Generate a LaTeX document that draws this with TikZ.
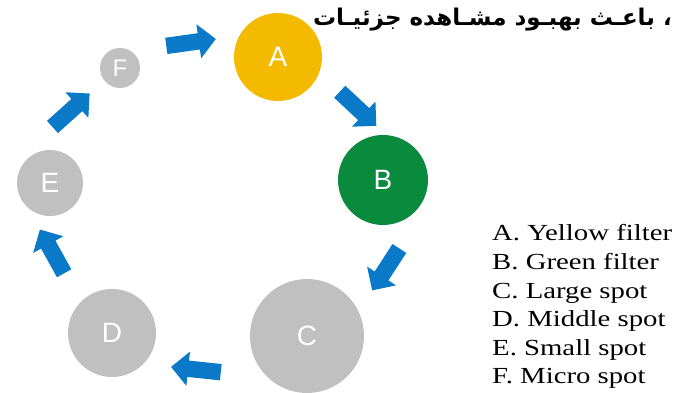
\documentclass[tikz,border=0pt]{standalone}
\usepackage{fontspec}
\usetikzlibrary{shapes.arrows}
\TeXXeTstate=1
\setmainfont{Liberation Serif}
\newfontfamily\arabicfont[Script=Arabic]{DejaVu Sans}
\newfontfamily\letterfont{Liberation Sans}
\newfontfamily\legendfont[FakeStretch=1.25]{Liberation Serif}
\definecolor{spotyellow}{HTML}{F3BA00}
\definecolor{spotgreen}{HTML}{0A8A3C}
\definecolor{spotgray}{HTML}{C0C0C0}
\definecolor{flowblue}{HTML}{0A79C8}
\tikzset{
  spot/.style={circle, inner sep=0pt, text=white, font=\letterfont\fontsize{28}{28}\selectfont},
  flow/.style={single arrow, fill=flowblue, inner sep=8pt, minimum height=50pt,
    minimum width=34pt, single arrow head extend=9pt, single arrow head indent=0pt}
}
\begin{document}
\begin{tikzpicture}[x=1pt, y=1pt]
		\useasboundingbox (0,0) rectangle (680,393);
		% title
		\node[anchor=base east, inner sep=0pt, font=\arabicfont\bfseries\fontsize{23}{23}\selectfont] (title) at (672,367)
			{\beginR ، باعـث بهبـود مشـاهده جزئیـات\endR};
		
		% spots
		\node[spot, fill=spotyellow, minimum size=88pt] (A) at (278,336) {A};
		\node[spot, fill=spotgreen, minimum size=90pt] (B) at (383,213) {B};
		\node[spot, fill=spotgray, minimum size=114pt] (C) at (307,57) {C};
		\node[spot, fill=spotgray, minimum size=88pt] (D) at (112,60) {D};
		\node[spot, fill=spotgray, minimum size=66pt] (E) at (50,210) {E};
		\node[spot, fill=spotgray, minimum size=40pt, font=\letterfont\fontsize{24}{24}\selectfont] (F) at (120,325) {F};
		
		% arrows
		\node[flow, rotate=8] (FA) at (187,350) {};
		\node[flow, rotate=-43] (AB) at (355,287) {};
		\node[flow, rotate=-123] (BC) at (388,127) {};
		\node[flow, rotate=174] (CD) at (200,23) {};
		\node[flow, rotate=119] (DE) at (54,138) {};
		\node[flow, rotate=42] (EF) at (68,280) {};
		
		% legend
		\foreach \lbl/\txt [count=\i from 0] in {A/Yellow filter, B/Green filter, C/Large spot,
			D/Middle spot, E/Small spot, F/Micro spot}
			\node[anchor=base west, inner sep=0pt, font=\legendfont\fontsize{23}{23}\selectfont]
				(key\lbl) at (492,152-28.6*\i) {\lbl. \txt};
	\end{tikzpicture}
\end{document}
